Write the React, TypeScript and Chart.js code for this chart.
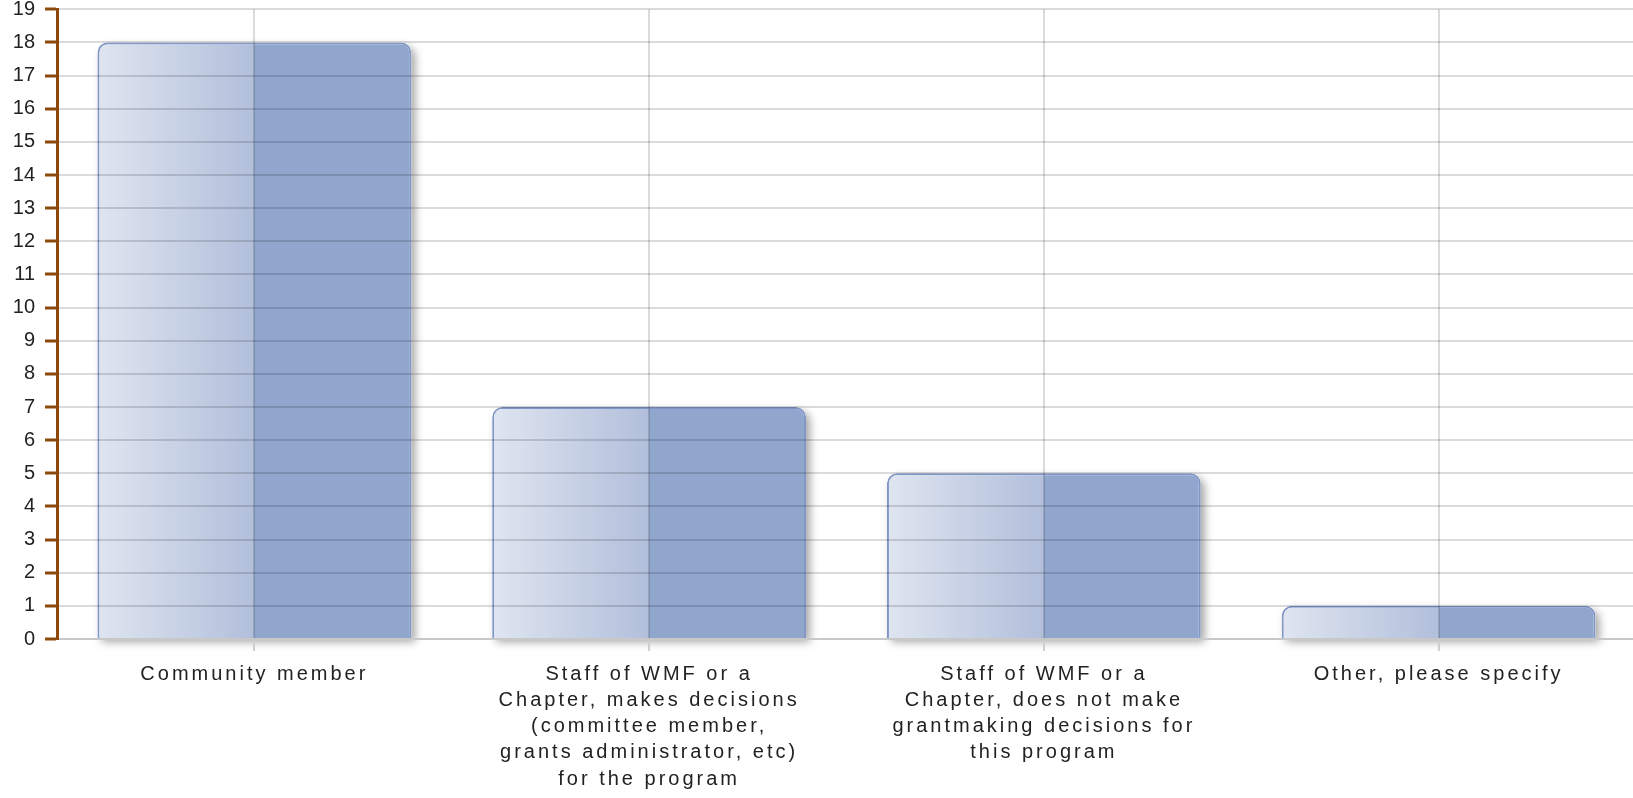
import React, { useEffect, useRef } from 'react';
import { Chart, registerables } from 'chart.js';

Chart.register(...registerables);

const categories: string[][] = [
  ['Community member'],
  ['Staff of WMF or a', 'Chapter, makes decisions', '(committee member,', 'grants administrator, etc)', 'for the program'],
  ['Staff of WMF or a', 'Chapter, does not make', 'grantmaking decisions for', 'this program'],
  ['Other, please specify'],
];
const values: number[] = [18, 7, 5, 1];
const yMin = 0;
const yMax = 19;
const yStep = 1;

const CAT_PCT = 0.795;
const FONT = '"Liberation Sans", Arial, Helvetica, sans-serif';

export default function App() {
  const ref = useRef<HTMLCanvasElement>(null);

  useEffect(() => {
    const canvas = ref.current;
    if (!canvas) return;

    const barShadow = {
      id: 'barShadow',
      beforeDatasetsDraw(chart: any) {
        const ctx = chart.ctx as CanvasRenderingContext2D;
        const meta = chart.getDatasetMeta(0);
        meta.data.forEach((el: any) => {
          const { x, y, base, width } = el.getProps(['x', 'y', 'base', 'width'], true);
          ctx.save();
          ctx.shadowColor = 'rgba(0,0,0,0.35)';
          ctx.shadowBlur = 8;
          ctx.shadowOffsetX = 4;
          ctx.shadowOffsetY = 4;
          ctx.fillStyle = '#ffffff';
          ctx.beginPath();
          (ctx as any).roundRect(x - width / 2, y, width, base - y, [10, 10, 0, 0]);
          ctx.fill();
          ctx.restore();
        });
      },
    };

    const chart = new Chart(canvas, {
      type: 'bar',
      data: {
        labels: categories,
        datasets: [
          {
            data: values,
            backgroundColor: (c: any) => {
              const ch = c.chart;
              const xs = ch.scales && ch.scales.x;
              if (c.type !== 'data' || !xs || !ch.chartArea) return '#91a6cd';
              const cx = xs.getPixelForValue(c.dataIndex);
              const w = (xs.width / categories.length) * CAT_PCT;
              const g = ch.ctx.createLinearGradient(cx - w / 2, 0, cx + w / 2, 0);
              g.addColorStop(0, '#dfe5f0');
              g.addColorStop(0.5, '#b2bfdb');
              g.addColorStop(0.5, '#91a6cd');
              g.addColorStop(1, '#91a6cd');
              return g;
            },
            borderColor: '#7f96c7',
            borderWidth: 2,
            borderRadius: 10,
            borderSkipped: 'bottom',
            categoryPercentage: CAT_PCT,
            barPercentage: 1,
          },
        ],
      },
      options: {
        responsive: false,
        animation: false,
        layout: { padding: 0 },
        plugins: {
          legend: { display: false },
          tooltip: { enabled: false },
          title: { display: false },
        },
        scales: {
          x: {
            offset: true,
            grid: {
              offset: false,
              color: 'rgba(0,0,0,0.14)',
              lineWidth: 2,
              tickLength: 12,
              tickColor: '#cfcfcf',
              tickWidth: 2,
              z: 1,
            },
            border: { color: '#c8c8c8', width: 2, z: 2 },
            ticks: {
              autoSkip: false,
              maxRotation: 0,
              minRotation: 0,
              padding: 10,
              color: (c: any) => {
                c.chart.ctx.letterSpacing = '3px';
                return '#222222';
              },
              font: { family: FONT, size: 20, lineHeight: 1.3125 },
            },
            afterFit: (s: any) => {
              s.height = 159;
            },
          },
          y: {
            min: yMin,
            max: yMax,
            ticks: {
              stepSize: yStep,
              padding: 10,
              color: (c: any) => {
                c.chart.ctx.letterSpacing = '0px';
                return '#222222';
              },
              font: { family: FONT, size: 20 },
            },
            grid: {
              color: 'rgba(0,0,0,0.14)',
              lineWidth: 2,
              tickColor: '#8b4a0c',
              tickWidth: 3,
              tickLength: 12,
              z: 1,
            },
            border: { color: '#8b4a0c', width: 3, z: 2 },
            afterFit: (s: any) => {
              s.width = 57;
              s.paddingTop = 9.3;
              s.paddingBottom = 0;
            },
          },
        },
      },
      plugins: [barShadow],
    } as any);

    return () => {
      chart.destroy();
    };
  }, []);

  return (
    <div
      style={{
        position: 'fixed',
        left: 0,
        top: 0,
        width: 1633,
        height: 798,
        overflow: 'hidden',
        background: '#ffffff',
      }}
    >
      <canvas ref={ref} width={1636} height={798} style={{ display: 'block' }} />
    </div>
  );
}
